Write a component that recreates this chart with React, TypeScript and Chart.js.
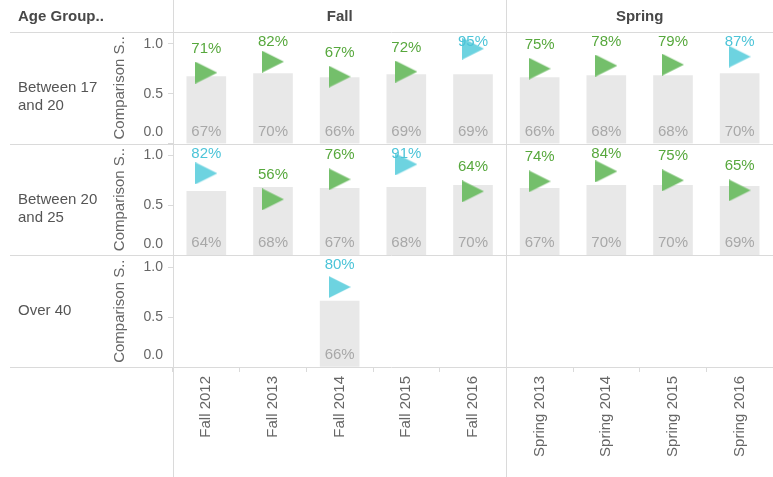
import React, { useEffect, useRef } from 'react';
import { Chart, registerables } from 'chart.js';

Chart.register(...registerables);

// ---------- data ----------
const categories = ['Fall 2012', 'Fall 2013', 'Fall 2014', 'Fall 2015', 'Fall 2016', 'Spring 2013', 'Spring 2014', 'Spring 2015', 'Spring 2016'];
const rowHeaderTitle = 'Age Group..';
const axisTitle = 'Comparison S..';
const rowLabel17to20 = ['Between 17', 'and 20'];
const rowLabel20to25 = ['Between 20', 'and 25'];
const rowLabelOver40 = ['Over 40'];

const actual17to20 = [0.71, 0.82, 0.67, 0.72, 0.95, 0.75, 0.78, 0.79, 0.87];
const comparison17to20 = [0.67, 0.70, 0.66, 0.69, 0.69, 0.66, 0.68, 0.68, 0.70];
const highlight17to20 = [false, false, false, false, true, false, false, false, true];

const actual20to25 = [0.82, 0.56, 0.76, 0.91, 0.64, 0.74, 0.84, 0.75, 0.65];
const comparison20to25 = [0.64, 0.68, 0.67, 0.68, 0.70, 0.67, 0.70, 0.70, 0.69];
const highlight20to25 = [true, false, false, true, false, false, false, false, false];

const actualOver40 = [null, null, 0.80, null, null, null, null, null, null];
const comparisonOver40 = [null, null, 0.66, null, null, null, null, null, null];
const highlightOver40 = [false, false, true, false, false, false, false, false, false];

const yTickValues = [0, 0.5, 1.0];
const yMax = 1.1167;

// ---------- styles ----------
const FONT = '"Liberation Sans", Arial, sans-serif';
const LINE = '#dadada';
const BAR = '#e8e8e8';
const BAR_TEXT = '#a8a8a8';
const MARKER_GREEN = '#74bf6b';
const MARKER_CYAN = '#6dd3e0';
const TEXT_GREEN = '#57a83d';
const TEXT_CYAN = '#4cc4d8';
const TICK_TEXT = '#666666';
const HEAD_TEXT = '#484848';
const ROW_TEXT = '#555555';

const rows = [
  { labels: rowLabel17to20, actual: actual17to20, comparison: comparison17to20, highlight: highlight17to20 },
  { labels: rowLabel20to25, actual: actual20to25, comparison: comparison20to25, highlight: highlight20to25 },
  { labels: rowLabelOver40, actual: actualOver40, comparison: comparisonOver40, highlight: highlightOver40 },
];

function makeTriangle(color: string) {
  const c = document.createElement('canvas');
  c.width = 22;
  c.height = 22;
  const g = c.getContext('2d')!;
  g.fillStyle = color;
  g.beginPath();
  g.moveTo(0, 0);
  g.lineTo(22, 11);
  g.lineTo(0, 22);
  g.closePath();
  g.fill();
  return c;
}

const trellisPlugin = {
  id: 'trellis',
  afterDatasetsDraw(chart: any) {
    const { ctx, chartArea, scales } = chart;
    const x = scales.x;
    ctx.save();
    // separator lines
    ctx.strokeStyle = LINE;
    ctx.lineWidth = 1;
    const hs = [chartArea.top, ...rows.map((_, r) => scales['y' + r].bottom)];
    hs.forEach((y: number) => {
      const yy = Math.round(y) + 0.5;
      ctx.beginPath();
      ctx.moveTo(10, yy);
      ctx.lineTo(chart.width, yy);
      ctx.stroke();
    });
    // group split positions
    const groups: { name: string; first: number; last: number }[] = [];
    categories.forEach((c, i) => {
      const name = c.split(' ')[0];
      const g = groups[groups.length - 1];
      if (g && g.name === name) g.last = i;
      else groups.push({ name, first: i, last: i });
    });
    const half = (x.getPixelForValue(1) - x.getPixelForValue(0)) / 2;
    const vs = [chartArea.left];
    groups.slice(1).forEach((g) => vs.push(x.getPixelForValue(g.first) - half));
    vs.forEach((v: number) => {
      const xx = Math.round(v) + 0.5;
      ctx.beginPath();
      ctx.moveTo(xx, 0);
      ctx.lineTo(xx, chart.height);
      ctx.stroke();
    });

    // value labels
    ctx.textAlign = 'center';
    ctx.textBaseline = 'middle';
    ctx.font = '15px ' + FONT;
    chart.data.datasets.forEach((ds: any, di: number) => {
      const meta = chart.getDatasetMeta(di);
      const scale = scales[ds.yAxisID];
      const row = rows[ds.rowIndex];
      meta.data.forEach((el: any, i: number) => {
        const v = ds.data[i];
        if (v === null || v === undefined) return;
        const txt = Math.round(v * 100) + '%';
        if (ds.kind === 'bar') {
          ctx.fillStyle = BAR_TEXT;
          ctx.fillText(txt, el.x, scale.bottom - 12);
        } else {
          ctx.fillStyle = row.highlight[i] ? TEXT_CYAN : TEXT_GREEN;
          ctx.fillText(txt, el.x, Math.max(el.y - 24, scale.top + 10));
        }
      });
    });

    // headers
    ctx.fillStyle = HEAD_TEXT;
    ctx.font = 'bold 15px ' + FONT;
    ctx.textAlign = 'left';
    ctx.fillText(rowHeaderTitle, 18, 17);
    ctx.textAlign = 'center';
    groups.forEach((g) => {
      const cx = (x.getPixelForValue(g.first) + x.getPixelForValue(g.last)) / 2;
      ctx.fillText(g.name, cx, 17);
    });

    // row labels
    ctx.fillStyle = ROW_TEXT;
    ctx.font = '15px ' + FONT;
    ctx.textAlign = 'left';
    rows.forEach((row, r) => {
      const s = scales['y' + r];
      const cy = (s.top + s.bottom) / 2;
      row.labels.forEach((t, li) => ctx.fillText(t, 18, cy + li * 18));
    });
    ctx.restore();
  },
};

export default function App() {
  const ref = useRef<HTMLCanvasElement>(null);
  useEffect(() => {
    const canvas = ref.current!;
    const greenTri = makeTriangle(MARKER_GREEN);
    const cyanTri = makeTriangle(MARKER_CYAN);
    const datasets: any[] = [];
    rows.forEach((row, r) => {
      datasets.push({
        type: 'line',
        label: row.labels.join(' ') + ' actual',
        data: row.actual,
        yAxisID: 'y' + r,
        showLine: false,
        pointStyle: row.highlight.map((h) => (h ? cyanTri : greenTri)),
        pointRadius: 11,
        order: 0,
        kind: 'marker',
        rowIndex: r,
      });
      datasets.push({
        type: 'bar',
        label: row.labels.join(' ') + ' comparison',
        data: row.comparison,
        yAxisID: 'y' + r,
        backgroundColor: BAR,
        barThickness: 39,
        grouped: false,
        order: 1,
        kind: 'bar',
        rowIndex: r,
      });
    });

    const scales: any = {
      x: {
        type: 'category',
        position: 'bottom',
        offset: true,
        grid: { offset: true, drawOnChartArea: false, drawTicks: true, tickLength: 5, color: LINE },
        border: { display: false },
        ticks: {
          color: TICK_TEXT,
          font: { family: FONT, size: 15 },
          minRotation: 90,
          maxRotation: 90,
          padding: 4,
          autoSkip: false,
        },
        afterFit: (s: any) => {
          s.height = 110;
          s.paddingLeft = 0;
          s.paddingRight = 0;
        },
      },
    };
    rows.forEach((_, r) => {
      scales['y' + r] = {
        type: 'linear',
        position: 'left',
        stack: 'rows',
        stackWeight: 1,
        weight: 10 - r,
        min: 0,
        max: yMax,
        afterBuildTicks: (s: any) => {
          s.ticks = yTickValues.map((v) => ({ value: v }));
        },
        afterFit: (s: any) => {
          s.width = 173;
          s.paddingTop = 0;
          s.paddingBottom = 0;
        },
        ticks: {
          color: TICK_TEXT,
          padding: 5,
          autoSkip: false,
          font: (c: any) => ({ family: FONT, size: 14, lineHeight: c.tick && c.tick.value === 0 ? 1.65 : 1.2 }),
          callback: (v: any) => (Number(v) === 0 ? ['0.0', ''] : Number(v).toFixed(1)),
        },
        grid: { drawOnChartArea: false, drawTicks: true, tickLength: 5, color: LINE },
        border: { display: false },
        title: {
          display: true,
          text: axisTitle,
          color: TICK_TEXT,
          font: { family: FONT, size: 15 },
          padding: { top: 111, bottom: 0 },
        },
      };
    });

    const chart = new Chart(canvas, {
      type: 'bar',
      data: { labels: categories, datasets },
      options: {
        animation: false,
        responsive: false,
        devicePixelRatio: 1,
        events: [],
        layout: { autoPadding: false, padding: { top: 32, left: 0, right: 0, bottom: 0 } },
        plugins: { legend: { display: false }, tooltip: { enabled: false } },
        scales,
      } as any,
      plugins: [trellisPlugin],
    });
    return () => chart.destroy();
  }, []);

  return (
    <canvas
      ref={ref}
      width={773}
      height={477}
      style={{ position: 'absolute', left: 0, top: 0, display: 'block', width: 773, height: 477 }}
    />
  );
}
